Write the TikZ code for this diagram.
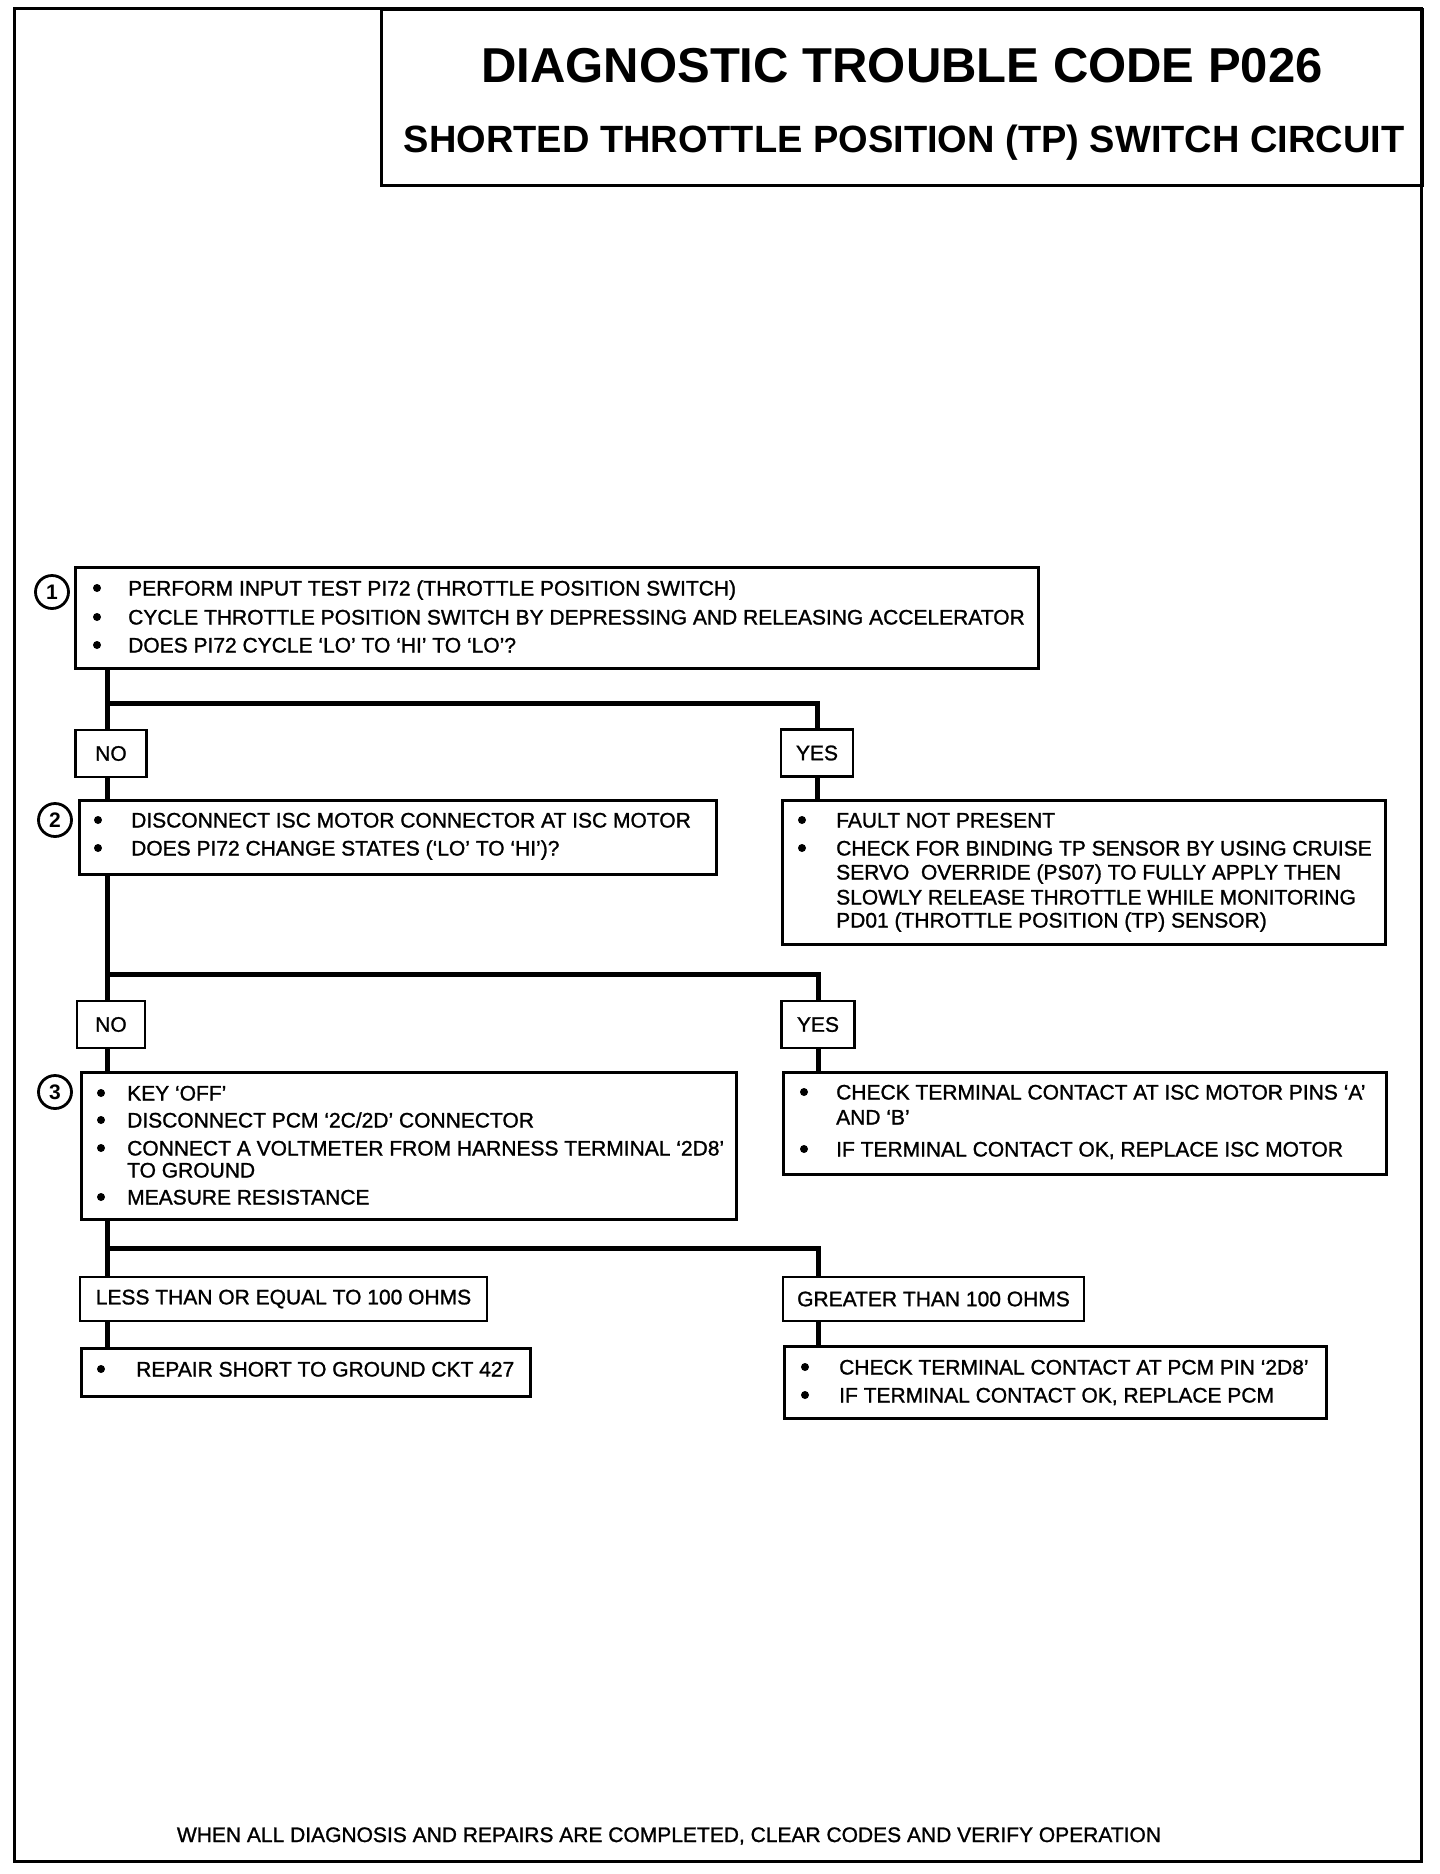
\documentclass[tikz,border=0pt]{standalone}
\usepackage{fontspec}
\setmainfont{Liberation Sans}
\newfontfamily\bodyfam{Liberation Sans}[RawFeature={embolden=1.2}]
\usetikzlibrary{calc}
\newcommand\bodyfont{\bodyfam\fontsize{21}{25}\selectfont}
\newcommand\numfont{\fontsize{21}{25}\bfseries\selectfont}
\newcommand\bline[5]{%
  \node[bul] (#1b) at (#2,#4) {};
  \node[txt] (#1) at (#3,#4+7.5) {#5};}
\newcommand\contline[4]{%
  \node[txt] (#1) at (#2,#3+7.5) {#4};}
\begin{document}
\begin{tikzpicture}[x=1pt,y=-1pt,
  box/.style={draw, line width=2.8pt, inner sep=0pt, anchor=north west},
  lbl/.style={draw, line width=2.8pt, inner sep=0pt, font=\bodyfont, minimum height=47pt},
  txt/.style={inner sep=0pt, anchor=base west, font=\bodyfont},
  bul/.style={circle, fill, inner sep=0pt, minimum size=8pt},
  num/.style={circle, draw, line width=2.8pt, inner sep=0pt, minimum size=33pt, font=\numfont},
  trunk/.style={line width=5pt},
  frame/.style={line width=3pt}]
\useasboundingbox (0,0) rectangle (1440,1874);
% outer frame and title
\draw[frame] (14,8) rectangle (1421,1861);
\node[box, line width=3.2pt, minimum width=1041pt, minimum height=176pt] (title) at (380,8) {};
\node[inner sep=0pt, anchor=base, font=\fontsize{49}{55}\bfseries\selectfont] (t1) at (902,82) {DIAGNOSTIC TROUBLE CODE P026};
\node[inner sep=0pt, anchor=base, font=\fontsize{38}{44}\bfseries\selectfont] (t2) at (904,152) {SHORTED THROTTLE POSITION (TP) SWITCH CIRCUIT};
% boxes
\node[box, minimum width=963pt, minimum height=101pt] (b1) at (74,566) {};
\node[box, minimum width=637pt, minimum height=74pt] (b2) at (78,799) {};
\node[box, minimum width=603pt, minimum height=144pt] (r1) at (781,799) {};
\node[box, minimum width=655pt, minimum height=147pt] (b3) at (80,1071) {};
\node[box, minimum width=603pt, minimum height=102pt] (r2) at (782,1071) {};
\node[box, minimum width=449pt, minimum height=48pt] (rep) at (80,1347) {};
\node[box, minimum width=542pt, minimum height=72pt] (pcm) at (783,1345) {};
% label boxes
\node[lbl, minimum width=71pt] (no1) at (111,753.5) {NO};
\node[lbl, minimum width=72pt] (yes1) at (817,753) {YES};
\node[lbl, minimum width=68pt] (no2) at (111,1024.5) {NO};
\node[lbl, minimum width=73pt] (yes2) at (818,1024.5) {YES};
\node[lbl, minimum width=407pt, minimum height=44pt] (less) at (283.5,1299) {LESS THAN OR EQUAL TO 100 OHMS};
\node[lbl, minimum width=301pt, minimum height=44pt] (grt) at (933.5,1299) {GREATER THAN 100 OHMS};
% step numbers
\node[num] (n1) at (52,592) {1};
\node[num] (n2) at (55,820) {2};
\node[num] (n3) at (55,1092) {3};
% texts
\bline{b1a}{97}{128}{588}{PERFORM INPUT TEST PI72 (THROTTLE POSITION SWITCH)}
\bline{b1b}{97}{128}{617}{CYCLE THROTTLE POSITION SWITCH BY DEPRESSING AND RELEASING ACCELERATOR}
\bline{b1c}{97}{128}{645}{DOES PI72 CYCLE ‘LO’ TO ‘HI’ TO ‘LO’?}
\bline{b2a}{98}{131}{820}{DISCONNECT ISC MOTOR CONNECTOR AT ISC MOTOR}
\bline{b2b}{98}{131}{848}{DOES PI72 CHANGE STATES (‘LO’ TO ‘HI’)?}
\bline{r1a}{802}{836}{820}{FAULT NOT PRESENT}
\bline{r1b}{802}{836}{848}{CHECK FOR BINDING TP SENSOR BY USING CRUISE}
\contline{r1c}{836}{872}{SERVO\ \ OVERRIDE (PS07) TO FULLY APPLY THEN}
\contline{r1d}{836}{897}{SLOWLY RELEASE THROTTLE WHILE MONITORING}
\contline{r1e}{836}{920}{PD01 (THROTTLE POSITION (TP) SENSOR)}
\bline{b3a}{101}{127}{1093}{KEY ‘OFF’}
\bline{b3b}{101}{127}{1120}{DISCONNECT PCM ‘2C/2D’ CONNECTOR}
\bline{b3c}{101}{127}{1148}{CONNECT A VOLTMETER FROM HARNESS TERMINAL ‘2D8’}
\contline{b3d}{127}{1170}{TO GROUND}
\bline{b3e}{101}{127}{1197}{MEASURE RESISTANCE}
\bline{r2a}{804}{836}{1092}{CHECK TERMINAL CONTACT AT ISC MOTOR PINS ‘A’}
\contline{r2b}{836}{1117}{AND ‘B’}
\bline{r2c}{804}{836}{1149}{IF TERMINAL CONTACT OK, REPLACE ISC MOTOR}
\bline{repa}{101}{136}{1369}{REPAIR SHORT TO GROUND CKT 427}
\bline{pcma}{805}{839}{1367}{CHECK TERMINAL CONTACT AT PCM PIN ‘2D8’}
\bline{pcmb}{805}{839}{1395}{IF TERMINAL CONTACT OK, REPLACE PCM}
\node[inner sep=0pt, anchor=base, font=\bodyfont] (foot) at (669,1842) {WHEN ALL DIAGNOSIS AND REPAIRS ARE COMPLETED, CLEAR CODES AND VERIFY OPERATION};
% connectors
\coordinate (L) at (107,0);
\coordinate (j1) at (107,703);
\coordinate (j2) at (107,974);
\coordinate (j3) at (107,1248);
\draw[trunk] (b1.south -| L) -- (no1.north -| L);
\draw[trunk] (j1) -| (yes1.north);
\draw[trunk] (no1.south -| L) -- (b2.north -| L);
\draw[trunk] (yes1.south) -- (yes1.south |- r1.north);
\draw[trunk] (b2.south -| L) -- (no2.north -| L);
\draw[trunk] (j2) -| (yes2.north);
\draw[trunk] (no2.south -| L) -- (b3.north -| L);
\draw[trunk] (yes2.south) -- (yes2.south |- r2.north);
\draw[trunk] (b3.south -| L) -- (less.north -| L);
\draw[trunk] (j3) -| (yes2.south |- grt.north);
\draw[trunk] (less.south -| L) -- (rep.north -| L);
\draw[trunk] (yes2.south |- grt.south) -- (yes2.south |- pcm.north);
\end{tikzpicture}
\end{document}
